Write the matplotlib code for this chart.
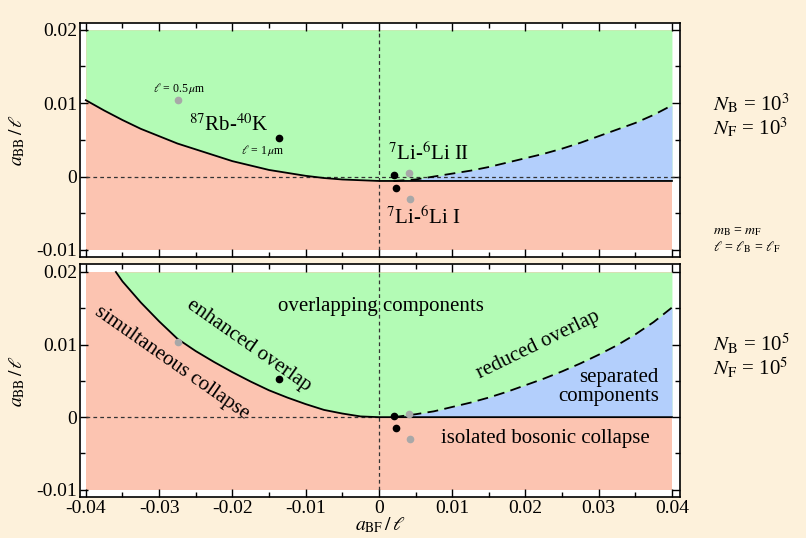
import matplotlib
matplotlib.use('Agg')
import matplotlib.pyplot as plt
import numpy as np

plt.rcParams['font.family'] = ['Liberation Serif', 'DejaVu Serif']
plt.rcParams['mathtext.fontset'] = 'stix'

# region extents of the phase diagram
x_lo, x_hi = -0.04, 0.04
y_lo, y_hi = -0.01, 0.02

# N = 10^3 panel: collapse line (solid) and separation line (dashed)
top_solid_x = [-0.04, -0.0375, -0.035, -0.0325, -0.03, -0.0275, -0.025, -0.0225, -0.02, -0.0175,
               -0.015, -0.0125, -0.01, -0.0075, -0.005, -0.0025, 0.0, 0.04]
top_solid_y = [0.0104, 0.0090, 0.0077, 0.0065, 0.0055, 0.0045, 0.0037, 0.0029, 0.0021, 0.0015,
               0.0009, 0.0005, 0.0001, -0.0002, -0.0004, -0.0005, -0.0006, -0.0006]
top_dash_x = [0.002, 0.005, 0.0075, 0.01, 0.0125, 0.015, 0.0175, 0.02, 0.0225, 0.025,
              0.0275, 0.03, 0.0325, 0.035, 0.0375, 0.04]
top_dash_y = [-0.0006, -0.0004, 0.0, 0.0004, 0.0008, 0.0013, 0.0019, 0.0025, 0.0031, 0.0038,
              0.0046, 0.0055, 0.0064, 0.0073, 0.0084, 0.0097]

# N = 10^5 panel
bot_solid_x = [-0.0359, -0.035, -0.0325, -0.03, -0.0275, -0.025, -0.0225, -0.02, -0.0175, -0.015,
               -0.0125, -0.01, -0.0075, -0.005, -0.0025, 0.0, 0.04]
bot_solid_y = [0.0200, 0.0187, 0.0158, 0.0132, 0.0108, 0.0091, 0.0076, 0.0062, 0.0049, 0.0037,
               0.0027, 0.0018, 0.0010, 0.0005, 0.0001, 0.0, 0.0]
bot_dash_x = [0.002, 0.005, 0.0075, 0.01, 0.0125, 0.015, 0.0175, 0.02, 0.0225, 0.025,
              0.0275, 0.03, 0.0325, 0.035, 0.0375, 0.04]
bot_dash_y = [0.0, 0.0004, 0.0008, 0.0014, 0.0020, 0.0027, 0.0035, 0.0044, 0.0053, 0.0063,
              0.0074, 0.0086, 0.0099, 0.0114, 0.0131, 0.0151]

# experimental points (a_BF/l, a_BB/l)
black_x = [-0.0137, 0.0020, 0.0023]
black_y = [0.0052, 0.0002, -0.0015]
gray_x = [-0.0274, 0.0041, 0.0043]
gray_y = [0.0104, 0.0005, -0.0030]

green = '#b3fbb5'
red = '#fcc4b1'
blue = '#b3cffc'
bg = '#fdf1db'

fig = plt.figure(figsize=(8.06, 5.38), dpi=100, facecolor=bg)
ax1 = fig.add_axes([80/806, 1-257/538, 600/806, 234/538])
ax2 = fig.add_axes([80/806, 1-497/538, 600/806, 233/538])


def draw_panel(ax, sx, sy, dx, dy, full_zero):
    ax.fill_between([x_lo, x_hi], y_lo, y_hi, color=red, lw=0)
    ax.fill_between(sx, sy, y_hi, color=green, lw=0)
    ax.fill_between(dx, sy[-1], dy, color=blue, lw=0)
    ax.plot([0, 0], [y_lo, y_hi], color='#333333', lw=0.9, ls=(0, (3, 2.5)))
    zx = [x_lo, 0.0412] if full_zero else [x_lo, 0]
    ax.plot(zx, [0, 0], color='#333333', lw=0.9, ls=(0, (3, 2.5)))
    ax.plot(sx, sy, color='black', lw=1.3)
    ax.plot(dx, dy, color='black', lw=1.3, ls=(0, (6, 3.5)))
    ax.plot(black_x, black_y, 'o', color='black', ms=4.5, zorder=5)
    ax.plot(gray_x, gray_y, 'o', color='#a8a8a8', ms=4.5, zorder=5)
    ax.set_xlim(-0.0408, 0.0411)
    ax.set_xticks([-0.04, -0.03, -0.02, -0.01, 0, 0.01, 0.02, 0.03, 0.04])
    ax.set_xticks(np.arange(-0.035, 0.04, 0.01), minor=True)
    ax.set_yticks([-0.01, 0, 0.01, 0.02])
    ax.set_yticks([-0.005, 0.005, 0.015], minor=True)
    ax.set_yticklabels(['-0.01', '0', '0.01', '0.02'])
    ax.tick_params(which='both', direction='in', top=True, right=True, labelsize=14, width=1)
    ax.tick_params(which='major', length=6, pad=2)
    ax.tick_params(which='minor', length=3.5)
    for s in ax.spines.values():
        s.set_linewidth(1.2)
    ax.set_ylabel(r'$a_{\mathrm{BB}}\,/\,\ell$', fontsize=14, labelpad=7)


draw_panel(ax1, top_solid_x, top_solid_y, top_dash_x, top_dash_y, True)
ax1.set_ylim(-0.01096, 0.02092)
ax1.set_xticklabels([])

draw_panel(ax2, bot_solid_x, bot_solid_y, bot_dash_x, bot_dash_y, False)
ax2.set_ylim(-0.0110, 0.0211)
ax2.set_xticklabels(['-0.04', '-0.03', '-0.02', '-0.01', '0', '0.01', '0.02', '0.03', '0.04'])
ax2.set_xlabel(r'$a_{\mathrm{BF}}\,/\,\ell$', fontsize=14, labelpad=-1)

# top panel labels
ax1.text(-0.0272, 0.0120, r'$\ell$ = 0.5$\,\mu$m', fontsize=8.5, ha='center', va='center')
ax1.text(-0.0205, 0.0070, r'$^{87}$Rb-$^{40}$K', fontsize=15, ha='center', va='center')
ax1.text(-0.0158, 0.0035, r'$\ell$ = 1$\,\mu$m', fontsize=8.5, ha='center', va='center')
ax1.text(0.0012, 0.0031, r'$^{7}$Li-$^{6}$Li II', fontsize=15, ha='left', va='center')
ax1.text(0.0010, -0.0056, r'$^{7}$Li-$^{6}$Li I', fontsize=15, ha='left', va='center')

# bottom panel labels
ax2.text(0.0003, 0.0153, 'overlapping components', fontsize=15, ha='center', va='center')
ax2.text(-0.0178, 0.0099, 'enhanced overlap', fontsize=15, ha='center', va='center', rotation=-35)
ax2.text(-0.0282, 0.0074, 'simultaneous collapse', fontsize=15, ha='center', va='center', rotation=-35)
ax2.text(0.0217, 0.0099, 'reduced overlap', fontsize=15, ha='center', va='center', rotation=26)
ax2.text(0.0382, 0.0041, 'separated\ncomponents', fontsize=15, ha='right', va='center',
         multialignment='right', linespacing=1.0)
ax2.text(0.0227, -0.0030, 'isolated bosonic collapse', fontsize=15, ha='center', va='center')

# side annotations
fig.text(713/806, 1-116/538, '$N_{\\mathrm{B}}$ = 10$^3$\n$N_{\\mathrm{F}}$ = 10$^3$',
         fontsize=15, ha='left', va='center', linespacing=1.0)
fig.text(713/806, 1-240/538, '$m_{\\mathrm{B}}$ = $m_{\\mathrm{F}}$\n$\\ell$ = $\\ell_{\\mathrm{B}}$ = $\\ell_{\\mathrm{F}}$',
         fontsize=10, ha='left', va='center', linespacing=1.1)
fig.text(713/806, 1-356/538, '$N_{\\mathrm{B}}$ = 10$^5$\n$N_{\\mathrm{F}}$ = 10$^5$',
         fontsize=15, ha='left', va='center', linespacing=1.0)

fig.savefig('out.png', dpi=100, facecolor=bg)
